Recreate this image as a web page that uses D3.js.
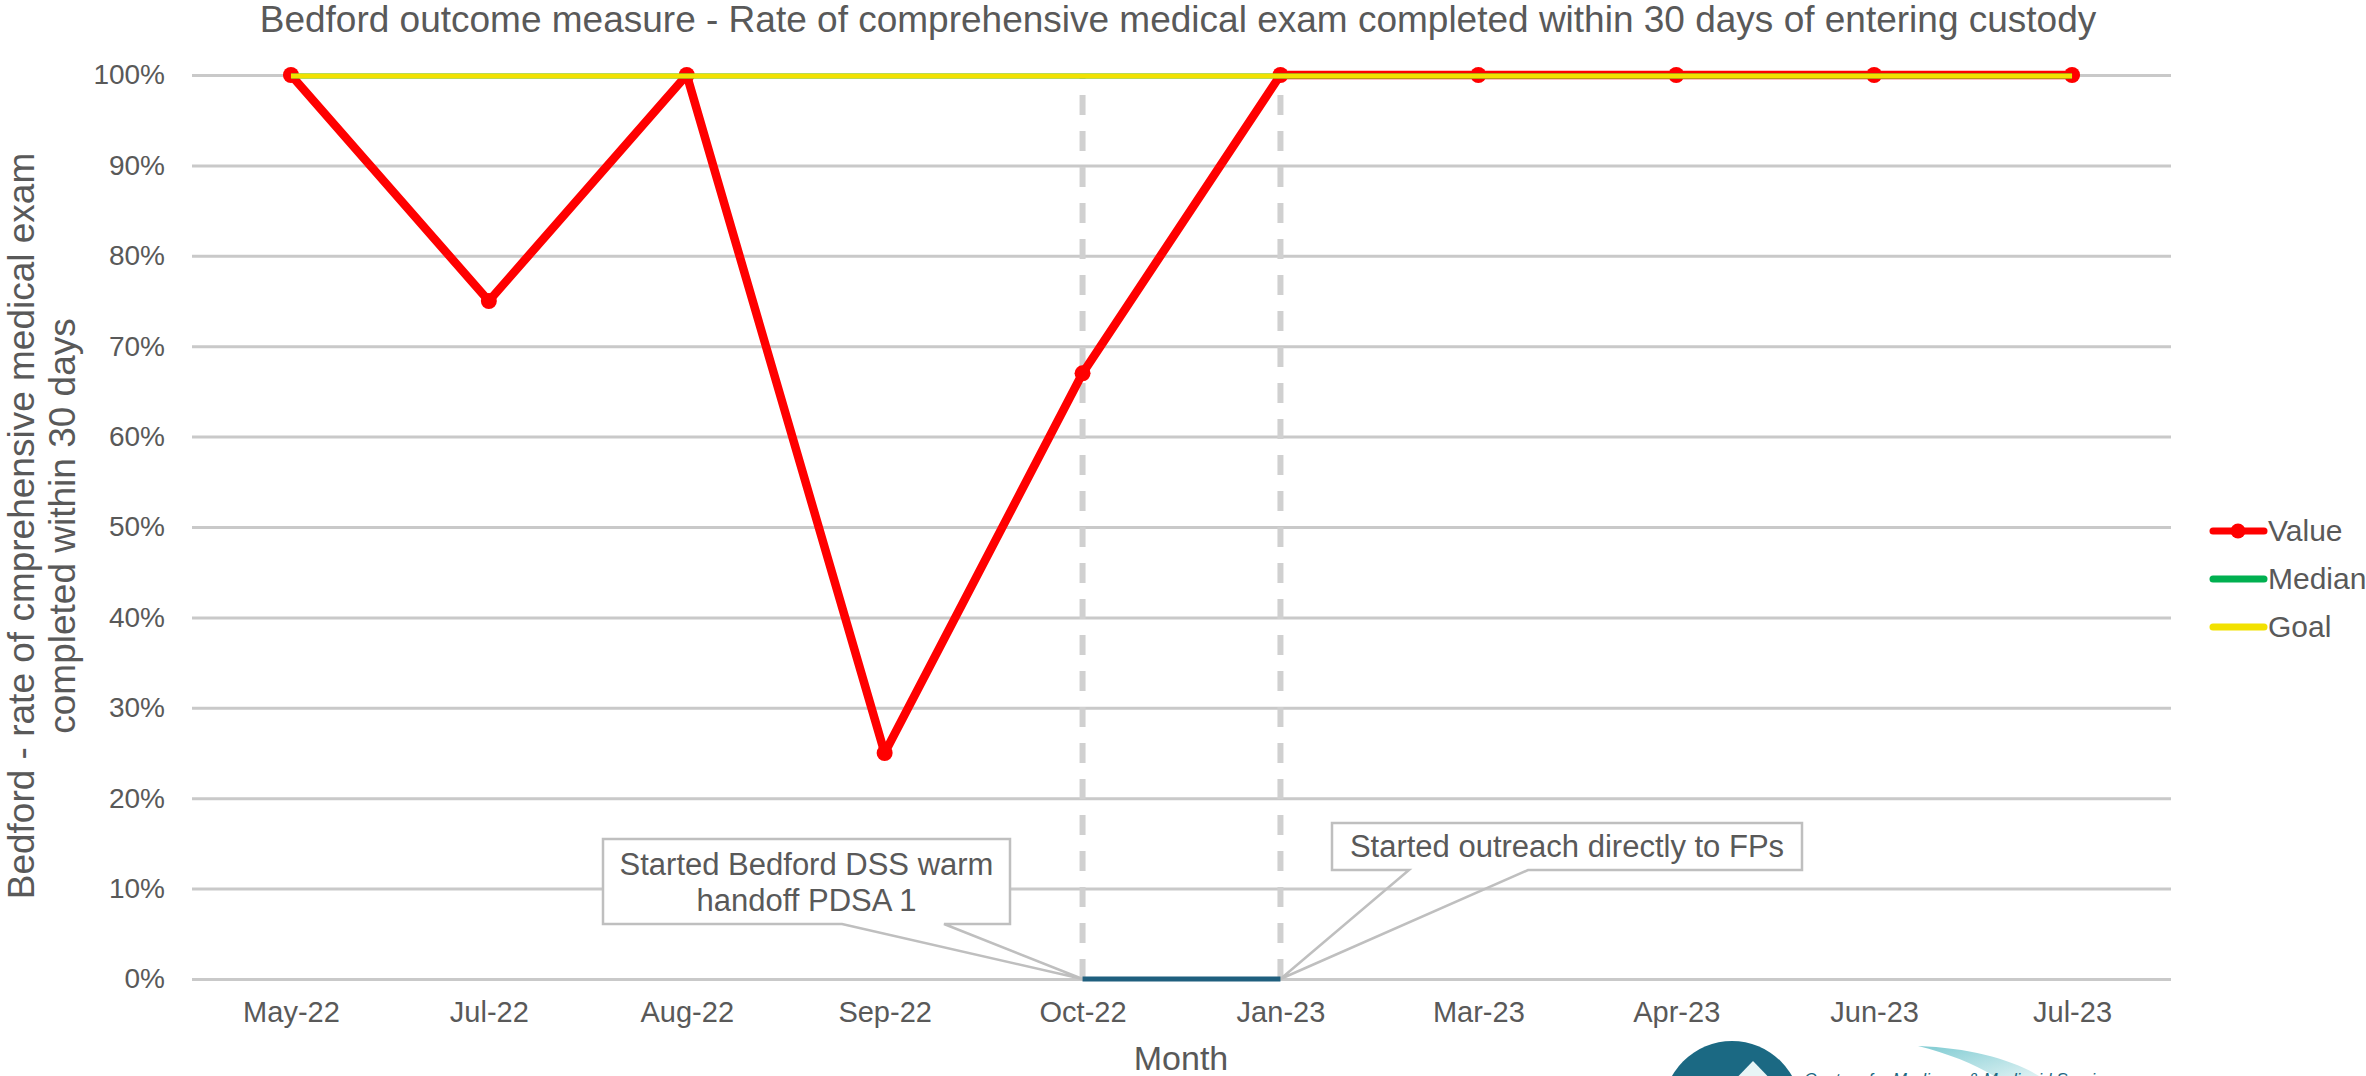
<!DOCTYPE html>
<html>
<head>
<meta charset="utf-8">
<script src="https://cdn.jsdelivr.net/npm/d3@7"></script>
<style>
  html, body { margin: 0; padding: 0; background: #ffffff; }
  svg { display: block; font-family: "Liberation Sans", Arial, sans-serif; }
</style>
</head>
<body>
<svg id="chart" width="2366" height="1076"></svg>
<script>
// ---- data ----
const months = ["May-22","Jul-22","Aug-22","Sep-22","Oct-22","Jan-23","Mar-23","Apr-23","Jun-23","Jul-23"];
const values = [1.00, 0.75, 1.00, 0.25, 0.67, 1.00, 1.00, 1.00, 1.00, 1.00];
const median = [1.00, 1.00, 1.00, 1.00, 1.00, 1.00, 1.00, 1.00, 1.00, 1.00];
const goal   = [1.00, 1.00, 1.00, 1.00, 1.00, 1.00, 1.00, 1.00, 1.00, 1.00];
const phaseMonths = ["Oct-22", "Jan-23"];
const phaseValues = [0, 0];
const yTicks = [0, 0.1, 0.2, 0.3, 0.4, 0.5, 0.6, 0.7, 0.8, 0.9, 1.0];
const annotations = [
  { month: "Oct-22", lines: ["Started Bedford DSS warm", "handoff PDSA 1"] },
  { month: "Jan-23", lines: ["Started outreach directly to FPs"] }
];
const titleText = "Bedford outcome measure - Rate of comprehensive medical exam completed within 30 days of entering custody";
const yLabelLines = ["Bedford - rate of cmprehensive medical exam", "completed within 30 days"];
const xLabelText = "Month";
const legendItems = ["Value", "Median", "Goal"];

// ---- layout ----
const svg = d3.select("#chart");
const plot = { left: 192, right: 2171, top: 75, bottom: 979 };
const textColor = "#595959";
const gridColor = "#C9C9C9";

const x = d3.scalePoint().domain(months).range([plot.left, plot.right]).padding(0.5);
const y = d3.scaleLinear().domain([0, 1]).range([plot.bottom, plot.top]);

// gridlines
const yAxis = d3.axisLeft(y).tickValues(yTicks).tickFormat(d3.format(".0%"))
  .tickSize(-(plot.right - plot.left)).tickPadding(27);
const gY = svg.append("g").attr("transform", `translate(${plot.left},0)`).call(yAxis);
gY.select(".domain").remove();
gY.selectAll(".tick line").attr("stroke", gridColor).attr("stroke-width", 3);
gY.selectAll(".tick text").attr("fill", textColor).attr("font-size", 28)
  .attr("font-family", "Liberation Sans, Arial, sans-serif");

// x axis labels
const xAxis = d3.axisBottom(x).tickSize(0).tickPadding(22);
const gX = svg.append("g").attr("transform", `translate(0,${plot.bottom})`).call(xAxis);
gX.select(".domain").remove();
gX.selectAll(".tick text").attr("fill", textColor).attr("font-size", 29)
  .attr("font-family", "Liberation Sans, Arial, sans-serif");

// dashed phase dividers
svg.append("g").selectAll("line").data(phaseMonths).join("line")
  .attr("x1", d => x(d)).attr("x2", d => x(d))
  .attr("y1", y(0)).attr("y2", y(1) + 3)
  .attr("stroke", "#D0D0D0").attr("stroke-width", 6)
  .attr("stroke-dasharray", "20,16").attr("stroke-dashoffset", 0);

// callouts
const boxes = [
  { x0: 603, x1: 1010, y0: 839, y1: 924, wa: 842, wb: 944, lineY: [875, 911] },
  { x0: 1332, x1: 1802, y0: 823, y1: 870, wa: 1409, wb: 1528, lineY: [857] }
];
annotations.forEach((a, i) => {
  const b = boxes[i];
  const tx = x(a.month), ty = y(0);
  svg.append("rect").attr("x", b.x0).attr("y", b.y0)
    .attr("width", b.x1 - b.x0).attr("height", b.y1 - b.y0).attr("fill", "#fff");
  const p = d3.path();
  p.moveTo(b.wa, b.y1);
  p.lineTo(b.x0, b.y1); p.lineTo(b.x0, b.y0); p.lineTo(b.x1, b.y0); p.lineTo(b.x1, b.y1);
  p.lineTo(b.wb, b.y1); p.lineTo(tx, ty); p.closePath();
  svg.append("path").attr("d", p.toString()).attr("fill", "none")
    .attr("stroke", "#BFBFBF").attr("stroke-width", 2.5).attr("stroke-linejoin", "miter");
  a.lines.forEach((t, j) => {
    svg.append("text").attr("x", (b.x0 + b.x1) / 2).attr("y", b.lineY[j])
      .attr("text-anchor", "middle").attr("fill", textColor).attr("font-size", 31).text(t);
  });
});

// phase line at 0
svg.append("path").datum(phaseMonths.map((m, i) => [m, phaseValues[i]]))
  .attr("d", d3.line().x(d => x(d[0])).y(d => y(d[1])))
  .attr("fill", "none").attr("stroke", "#1F5F7E").attr("stroke-width", 5);

// value line
const valData = months.map((m, i) => [m, values[i]]);
svg.append("path").datum(valData)
  .attr("d", d3.line().x(d => x(d[0])).y(d => y(d[1])))
  .attr("fill", "none").attr("stroke", "#FF0000").attr("stroke-width", 8.5)
  .attr("stroke-linejoin", "round");
svg.append("g").selectAll("circle").data(valData).join("circle")
  .attr("cx", d => x(d[0])).attr("cy", d => y(d[1])).attr("r", 8).attr("fill", "#FF0000");

// median and goal
svg.append("path").datum(months.map((m, i) => [m, median[i]]))
  .attr("d", d3.line().x(d => x(d[0])).y(d => y(d[1]) + 1))
  .attr("fill", "none").attr("stroke", "#00B050").attr("stroke-width", 5);
svg.append("path").datum(months.map((m, i) => [m, goal[i]]))
  .attr("d", d3.line().x(d => x(d[0])).y(d => y(d[1]) + 1))
  .attr("fill", "none").attr("stroke", "#F2E100").attr("stroke-width", 5);

// title
svg.append("text").attr("x", 1178).attr("y", 32).attr("text-anchor", "middle")
  .attr("fill", textColor).attr("font-size", 37).text(titleText);

// y label
const yl = svg.append("text").attr("transform", "translate(0,526) rotate(-90)")
  .attr("text-anchor", "middle").attr("fill", textColor).attr("font-size", 37);
yLabelLines.forEach((t, i) => {
  yl.append("tspan").attr("x", 0).attr("y", 34 + i * 41).text(t);
});

// x label
svg.append("text").attr("x", 1181).attr("y", 1070).attr("text-anchor", "middle")
  .attr("fill", textColor).attr("font-size", 34).text(xLabelText);

// legend
const legColors = ["#FF0000", "#00B050", "#F2E100"];
const leg = svg.append("g").selectAll("g").data(legendItems).join("g")
  .attr("transform", (d, i) => `translate(2210,${531 + i * 48})`);
leg.append("line").attr("x1", 3).attr("x2", 54).attr("y1", 0).attr("y2", 0)
  .attr("stroke", (d, i) => legColors[i]).attr("stroke-width", 7).attr("stroke-linecap", "round");
leg.filter((d, i) => i === 0).append("circle").attr("cx", 28).attr("cy", 0).attr("r", 7.5).attr("fill", "#FF0000");
leg.append("text").attr("x", 58).attr("y", 10).attr("fill", textColor).attr("font-size", 30).text(d => d);

// CMS logo (partially visible at bottom)
const logo = svg.append("g");
const grad = svg.append("defs").append("linearGradient").attr("id", "sw")
  .attr("x1", "0").attr("x2", "1").attr("y1", "0").attr("y2", "1");
grad.append("stop").attr("offset", "0").attr("stop-color", "#7FCBD2");
grad.append("stop").attr("offset", "1").attr("stop-color", "#E6F5F6");
logo.append("path").attr("d", "M1918,1046 C1975,1048 2020,1062 2045,1080 L2000,1080 C1980,1066 1950,1054 1918,1046 Z")
  .attr("fill", "url(#sw)");
logo.append("circle").attr("cx", 1732).attr("cy", 1110).attr("r", 69).attr("fill", "#1B6983");
logo.append("path").attr("d", "M1753,1061 L1725,1090 L1781,1090 Z").attr("fill", "#E8F5F6");
logo.append("text").attr("x", 1804).attr("y", 1085).attr("font-size", 17).attr("font-style", "italic")
  .attr("fill", "#1B6983").text("Centers for Medicare & Medicaid Services");
</script>
</body>
</html>
